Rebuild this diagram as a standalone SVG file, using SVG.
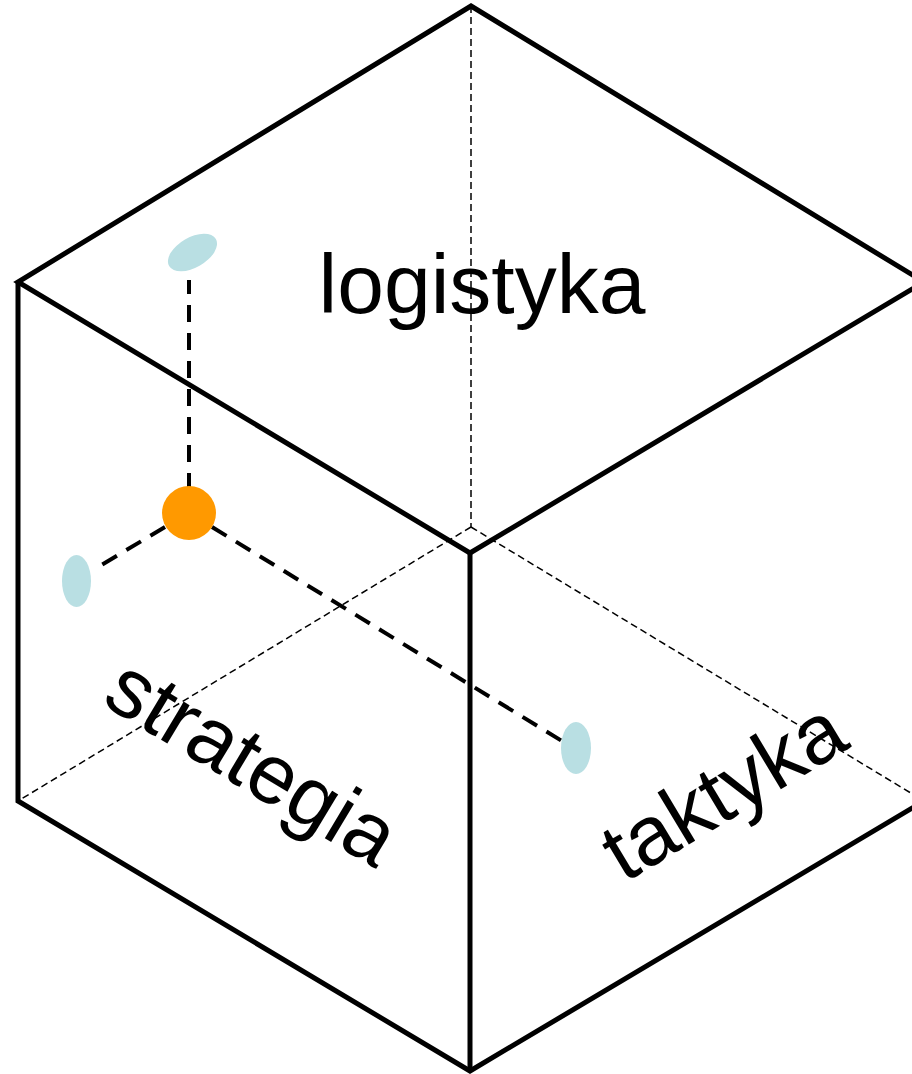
<svg xmlns="http://www.w3.org/2000/svg" width="912" height="1074" viewBox="0 0 912 1074">
<style>
.edge{fill:none;stroke:#000;stroke-width:5;stroke-linejoin:miter;stroke-linecap:butt}
.hidden{fill:none;stroke:#000;stroke-width:1.5;stroke-dasharray:7 4}
.proj{fill:none;stroke:#000;stroke-width:4;stroke-dasharray:17 11}
.lbl{font-family:"Liberation Sans",Arial,sans-serif;font-size:84px;fill:#000;text-anchor:middle}
.proj-pt{fill:#b9dfe3}
</style>
<rect width="912" height="1074" fill="#fff"/>
<g id="hidden-edges">
<line class="hidden" x1="471" y1="6" x2="471" y2="527"/>
<line class="hidden" x1="471" y1="527" x2="18" y2="801"/>
<line class="hidden" x1="471" y1="527" x2="924" y2="801"/>
</g>
<g id="cube">
<polygon class="edge" points="471,6 924,282 470,553 18,282"/>
<polyline class="edge" points="18,282 18,801 470,1071 924,801"/>
<line class="edge" x1="470" y1="553" x2="470" y2="1071"/>
</g>
<g id="connectors">
<line class="proj" x1="189" y1="490" x2="189" y2="280"/>
<line class="proj" x1="165" y1="527" x2="98" y2="567"/>
<line class="proj" x1="212" y1="527" x2="562" y2="741"/>
</g>
<g id="label-logistyka"><text class="lbl" x="482" y="313">logistyka</text></g>
<g id="label-strategia"><text class="lbl" transform="translate(238,786) rotate(31)">strategia</text></g>
<g id="label-taktyka"><text class="lbl" transform="translate(738,815) rotate(-31)">taktyka</text></g>
<g id="point"><circle cx="189" cy="513" r="27" fill="#ff9900"/></g>
<g id="proj-logistyka"><ellipse class="proj-pt" cx="192.5" cy="252.5" rx="27" ry="15" transform="rotate(-30 192.5 252.5)"/></g>
<g id="proj-strategia"><ellipse class="proj-pt" cx="76.5" cy="581" rx="14.5" ry="26"/></g>
<g id="proj-taktyka"><ellipse class="proj-pt" cx="576" cy="748" rx="15" ry="26"/></g>
</svg>
